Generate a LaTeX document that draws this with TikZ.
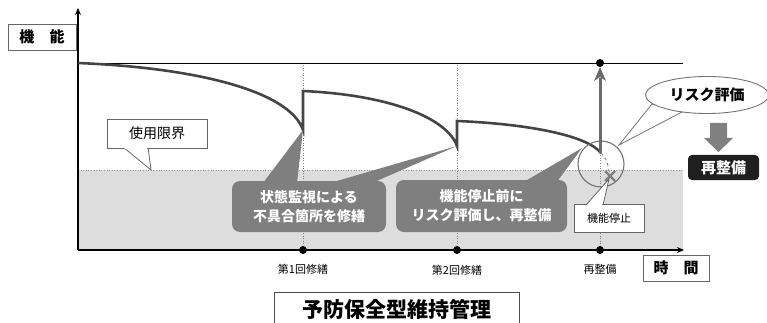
\documentclass[tikz,border=0pt]{standalone}
\usepackage{fontspec}
\setmainfont{Noto Sans CJK JP}
\usetikzlibrary{arrows.meta,shapes.geometric,shadows}
\definecolor{curvec}{HTML}{444444}
\definecolor{calloutc}{HTML}{7F7F7F}
\definecolor{bandc}{HTML}{DDDDDD}
\definecolor{boxline}{HTML}{666666}
\definecolor{arrowc}{HTML}{6A6A6A}
\begin{document}
\begin{tikzpicture}[x=1pt,y=-1pt,
  labelbox/.style={draw=boxline,fill=white,line width=0.8pt,inner sep=0pt,
    drop shadow={shadow xshift=1.2pt,shadow yshift=-1.2pt,fill=black!45,opacity=1}},
  callout/.style={fill=calloutc,rounded corners=8pt,inner sep=0pt,text=white,
    font=\fontsize{14}{19}\selectfont\bfseries,align=center},
  tick/.style={font=\fontsize{11}{13}\selectfont},
  curve/.style={curvec,line width=2.6pt},
  vguide/.style={gray,dotted,line width=0.5pt},
  dotm/.style={circle,fill=black,inner sep=0pt,minimum size=8pt},
  shaft/.style={draw=arrowc,line width=3pt}
]
\useasboundingbox (0,0) rectangle (767,323);
% band
\fill[bandc] (78,170) rectangle (683,250);
\draw[gray!80,dotted,line width=0.6pt] (78,170) -- (683,170);
% guides
\draw[vguide] (303,63) -- (303,250);
\draw[vguide] (457,63) -- (457,250);
\draw[vguide] (600,63) -- (600,250);
% top line
\coordinate (t0) at (78,63);
\coordinate (t1) at (683,63);
\draw[black,line width=0.9pt] (t0) -- (t1);
% axes
\coordinate (o) at (78,250);
\coordinate (ytop) at (78,8);
\coordinate (xend) at (684,250);
\draw[line width=1.5pt,-{Stealth[length=7pt,width=6pt]}] (o) -- (ytop);
\draw[line width=1.5pt,-{Stealth[length=7pt,width=6pt]}] (o) -- (xend);
% curve
\coordinate (r1b) at (303,130);
\coordinate (r1t) at (303,91);
\coordinate (r2b) at (457,146);
\coordinate (r2t) at (457,121);
\coordinate (r3) at (601,153);
\coordinate (xm) at (610,176);
\draw[curve,line join=miter] (t0) .. controls (200,68) and (290,92) .. (r1b) -- (r1t)
  .. controls (390,95) and (447,118) .. (r2b) -- (r2t)
  .. controls (530,124) and (588,136) .. (r3);
\draw[gray,dashed,line width=0.8pt] (r3) .. controls (607,160) .. (xm);
% X mark
\draw[black!50,line width=2.2pt] (605,171) -- (615,181) (605,181) -- (615,171);
% circle
\node[circle,draw=black!55,line width=1.1pt,minimum size=46pt,inner sep=0pt] (circ) at (601,164) {};
% vertical arrow
\coordinate (abase) at (600,153);
\coordinate (aneck) at (600,78);
\coordinate (atip) at (600,67);
\draw[shaft] (abase) -- (aneck);
\fill[arrowc] (atip) -- (606,81) -- (600,77) -- (594,81) -- cycle;
\node[dotm] (topdot) at (600,63) {};
% axis dots
\node[dotm] (d1) at (303,250) {};
\node[dotm] (d2) at (457,250) {};
\node[dotm] (d3) at (600,250) {};
\node[tick] (l1) at (303,269) {第1回修繕};
\node[tick] (l2) at (457,270) {第2回修繕};
\node[tick] (l3) at (600,269) {再整備};
% callout 1 pointers
\fill[calloutc] (263,183) -- (r1b) -- (297,183) -- cycle;
\fill[calloutc] (330,183) -- (r2b) -- (372,183) -- cycle;
\node[callout,minimum width=154pt,minimum height=51pt] (c1) at (309,206.5) {状態監視による\\不具合箇所を修繕};
% callout 2
\coordinate (ctip) at (582,148);
\fill[calloutc] (522,183) -- (ctip) -- (556,183) -- cycle;
\node[callout,minimum width=171pt,minimum height=52pt] (c2) at (481.5,206) {機能停止前に\\リスク評価し、再整備};
% 機能停止 box
\filldraw[fill=white,draw=boxline,line width=0.8pt] (586,205) -- (609,179) -- (603,205) -- cycle;
\node[labelbox,minimum width=70pt,minimum height=28pt,font=\fontsize{11}{13}\selectfont] (stop) at (609,218) {機能停止};
\fill[white] (587.5,204.2) -- (602,204.2) -- (602.5,206) -- (587,206) -- cycle;
% 使用限界 box
\filldraw[fill=white,draw=boxline,line width=0.8pt] (123,147) -- (151,170) -- (148,147) -- cycle;
\node[labelbox,minimum width=100pt,minimum height=29pt,font=\fontsize{14}{16}\selectfont] (lim) at (157,133.5) {使用限界};
\fill[white] (124.5,147) -- (147,147) -- (147,149) -- (125,149) -- cycle;
% risk ellipse
\coordinate (etip) at (619,145);
\filldraw[fill=white,draw=black!55,line width=0.8pt] (652,104) -- (etip) -- (682,112) -- cycle;
\node[ellipse,draw=black!55,fill=white,line width=0.9pt,minimum width=123pt,minimum height=37pt,inner sep=0pt,font=\fontsize{15}{17}\selectfont\bfseries] (risk) at (707,95) {リスク評価};
% block arrow
\fill[black!50] (710,123) -- (727,123) -- (727,138) -- (733,138) -- (718.5,152) -- (704,138) -- (710,138) -- cycle;
\node[fill=black!88,rounded corners=4pt,minimum width=71pt,minimum height=25pt,inner sep=0pt,text=white,font=\fontsize{15}{17}\selectfont\bfseries] (re) at (723.5,167.5) {再整備};
% axis labels
\node[labelbox,minimum width=68pt,minimum height=26pt,font=\fontsize{15}{17}\selectfont\bfseries] (ylab) at (42,37) {機　能};
\node[labelbox,minimum width=66pt,minimum height=26pt,font=\fontsize{15}{17}\selectfont\bfseries] (xlab) at (676,268) {時　間};
% title
\draw[black!70,line width=0.8pt] (274,330) -- (274,292) -- (519,292) -- (519,330);
\node[font=\fontsize{21}{24}\selectfont\bfseries] (title) at (397,309) {予防保全型維持管理};
\end{tikzpicture}
\end{document}
